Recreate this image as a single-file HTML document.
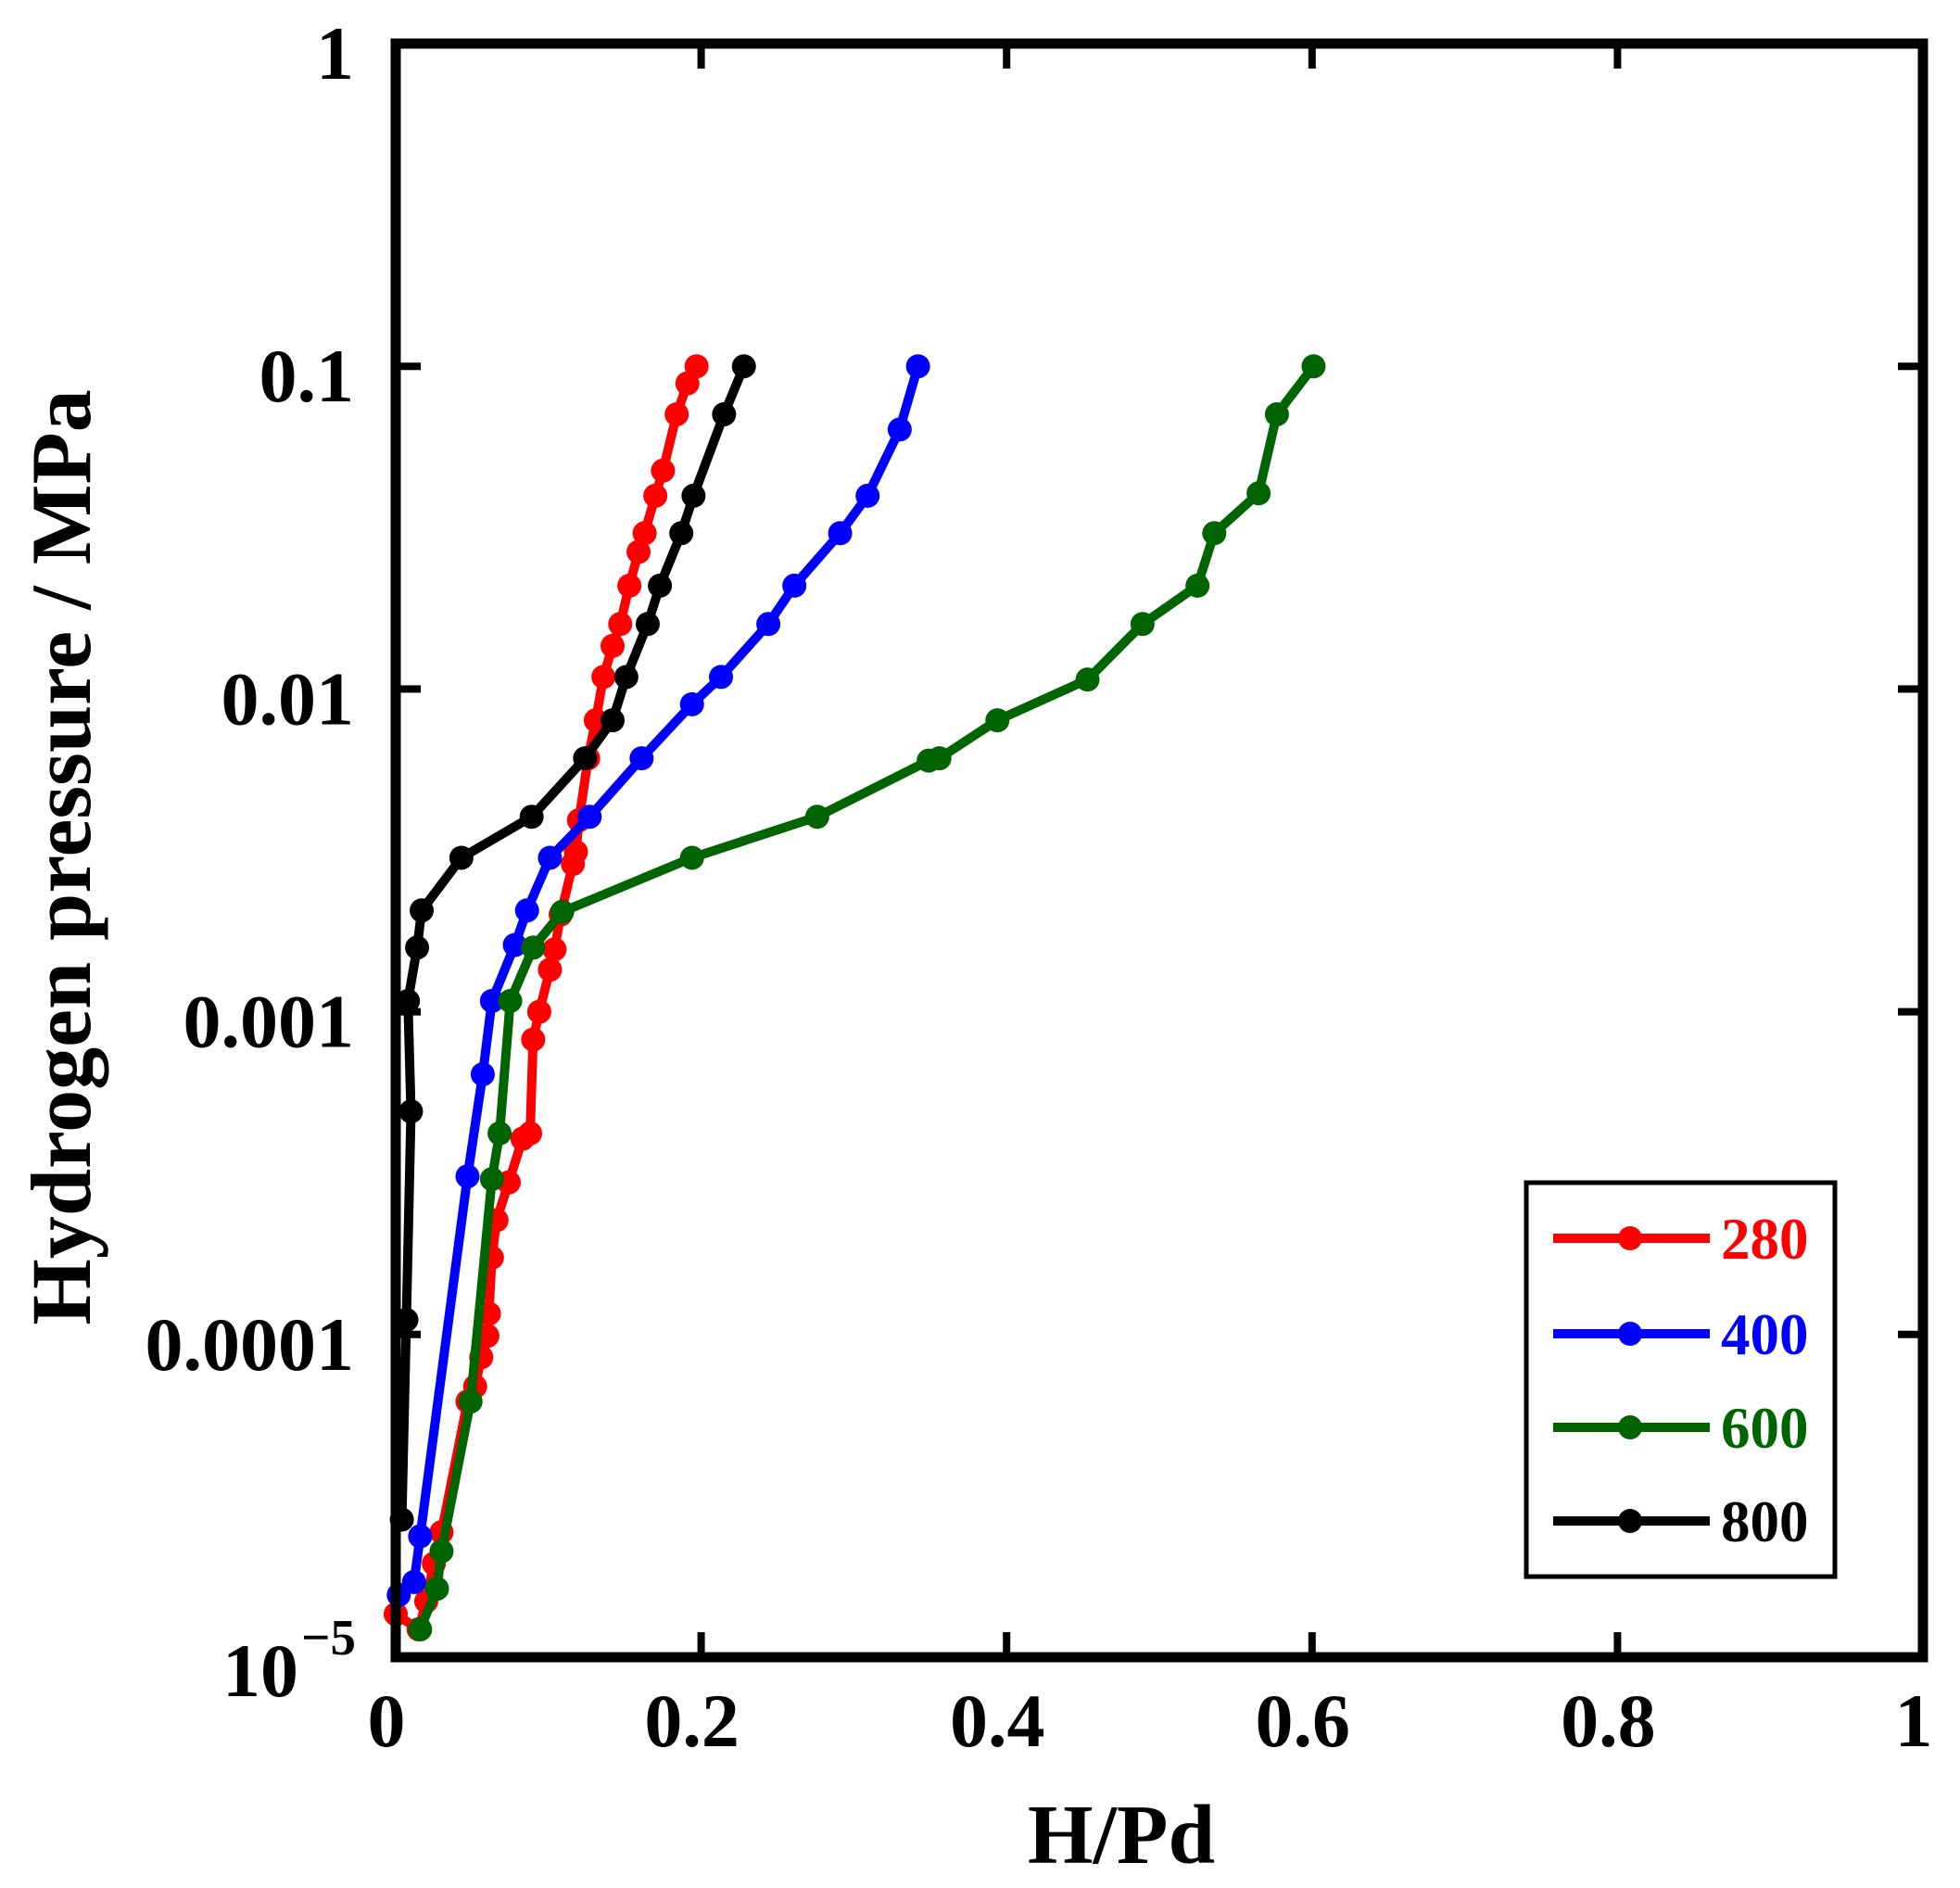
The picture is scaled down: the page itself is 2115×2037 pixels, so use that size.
<!DOCTYPE html>
<html><head><meta charset="utf-8"><style>
html,body{margin:0;padding:0;background:#fff;}
svg{display:block;font-family:"Liberation Serif",serif;font-weight:bold;}
</style></head><body>
<svg id="chart" width="2115" height="2037" viewBox="0 0 2115 2037" xmlns="http://www.w3.org/2000/svg">
<g id="marks"></g>
<g id="axes"></g>
</svg>
<script>
const xTicks=[0,0.2,0.4,0.6,0.8,1];
const xTickLabels=["0","0.2","0.4","0.6","0.8","1"];
const yTicks=[1e-5,1e-4,1e-3,1e-2,0.1,1];
const yTickLabels=["10","0.0001","0.001","0.01","0.1","1"];
const seriesNames=["280","400","600","800"];
const seriesColors=["#ff0000","#0000ff","#006400","#000000"];
const h280=[0.0,0.015,0.020,0.025,0.030,0.047,0.052,0.056,0.060,0.061,0.063,0.066,0.074,0.083,0.088,0.090,0.094,0.101,0.104,0.108,0.116,0.118,0.120,0.126,0.131,0.136,0.142,0.147,0.153,0.159,0.163,0.170,0.175,0.184,0.191,0.197];
const p280=[1.36e-5,1.22e-5,1.49e-5,1.95e-5,2.44e-5,6.2e-5,6.9e-5,8.5e-5,9.9e-5,1.16e-4,1.73e-4,2.26e-4,2.96e-4,4.04e-4,4.2e-4,8.2e-4,1.0e-3,1.35e-3,1.56e-3,2.0e-3,2.87e-3,3.13e-3,3.92e-3,6.1e-3,8.0e-3,1.09e-2,1.36e-2,1.59e-2,2.09e-2,2.66e-2,3.04e-2,3.97e-2,4.75e-2,7.1e-2,8.85e-2,0.1];
const h400=[0.002,0.012,0.016,0.047,0.057,0.063,0.078,0.086,0.101,0.127,0.161,0.194,0.213,0.244,0.261,0.291,0.309,0.330,0.342];
const p400=[1.56e-5,1.71e-5,2.37e-5,3.09e-4,6.4e-4,1.08e-3,1.61e-3,2.06e-3,3.0e-3,4.02e-3,6.1e-3,8.97e-3,1.09e-2,1.59e-2,2.09e-2,3.04e-2,3.97e-2,6.37e-2,0.1];
const h600=[0.016,0.027,0.030,0.049,0.063,0.068,0.075,0.090,0.109,0.194,0.276,0.349,0.356,0.394,0.453,0.489,0.525,0.536,0.565,0.577,0.601];
const p600=[1.22e-5,1.63e-5,2.13e-5,6.2e-5,3.03e-4,4.2e-4,1.08e-3,1.58e-3,2.04e-3,3.0e-3,4.02e-3,6.0e-3,6.1e-3,8.0e-3,1.07e-2,1.59e-2,2.09e-2,3.04e-2,4.04e-2,7.1e-2,0.1];
const h800=[0.004,0.007,0.010,0.008,0.014,0.017,0.043,0.089,0.124,0.142,0.151,0.165,0.173,0.187,0.195,0.215,0.228];
const p800=[2.67e-5,1.11e-4,4.91e-4,1.08e-3,1.58e-3,2.06e-3,3.0e-3,4.02e-3,6.1e-3,8.0e-3,1.09e-2,1.59e-2,2.09e-2,3.04e-2,3.97e-2,7.1e-2,0.1];

const L=427,R=2075,T=47,B=1788;
const xs=v=>L+(R-L)*v;
const ys=v=>B-(B-T)*(Math.log10(v)+5)/5;
const NS="http://www.w3.org/2000/svg";
function mk(tag,attrs,parent){const e=document.createElementNS(NS,tag);for(const k in attrs)e.setAttribute(k,attrs[k]);parent.appendChild(e);return e;}
const marks=document.getElementById('marks'),axes=document.getElementById('axes');
const H=[h280,h400,h600,h800],P=[p280,p400,p600,p800];
for(let s=0;s<4;s++){
  const g=mk('g',{},marks);
  
  
  const pts=H[s].map((h,i)=>xs(h).toFixed(1)+','+ys(P[s][i]).toFixed(1)).join(' ');
  const pl=mk('polyline',{points:pts,fill:'none',stroke:seriesColors[s],'stroke-width':10,'stroke-linejoin':'round'},g);
  
  
  H[s].forEach((h,i)=>{
    const c=mk('circle',{cx:xs(h),cy:ys(P[s][i]),r:13,fill:seriesColors[s]},g);
    
    
  });
}
const fr=mk('rect',{x:L,y:T,width:R-L,height:B-T,fill:'none',stroke:'#000','stroke-width':11},axes);


xTicks.forEach((v,i)=>{
  const x=xs(v);
  mk('line',{x1:x,y1:B,x2:x,y2:B-27,stroke:'#000','stroke-width':8},axes);
  mk('line',{x1:x,y1:T,x2:x,y2:T+27,stroke:'#000','stroke-width':8},axes);
  const t=mk('text',{x:x-10,y:1884,'text-anchor':'middle','font-size':82},axes);
  t.textContent=xTickLabels[i];
  
  
});
yTicks.forEach((v,i)=>{
  const y=ys(v);
  mk('line',{x1:L,y1:y,x2:L+27,y2:y,stroke:'#000','stroke-width':8},axes);
  mk('line',{x1:R,y1:y,x2:R-27,y2:y,stroke:'#000','stroke-width':8},axes);
  const t=mk('text',{x:i==0?322:382,y:i==0?1830:y+38,'text-anchor':'end','font-size':82},axes);
  t.textContent=yTickLabels[i];
  
  
  if(i==0){const sup=mk('text',{x:384,y:1785,'text-anchor':'end','font-size':55},axes);sup.textContent='−5';
    
    }
});
const lg=mk('g',{},axes);


mk('rect',{x:1647,y:1276,width:333,height:425,fill:'#fff',stroke:'#000','stroke-width':5},lg);
const legY=[1336,1439,1540,1641];
for(let s=0;s<4;s++){
  const e=mk('g',{},lg);
  
  
  mk('line',{x1:1676,y1:legY[s],x2:1845,y2:legY[s],stroke:seriesColors[s],'stroke-width':10},e);
  mk('circle',{cx:1759,cy:legY[s],r:13,fill:seriesColors[s]},e);
  const t=mk('text',{x:1857,y:legY[s]+22,'font-size':63,fill:seriesColors[s]},e);
  t.textContent=seriesNames[s];
}
const xt=mk('text',{x:1210,y:2010,'text-anchor':'middle','font-size':91},axes);
xt.textContent='H/Pd';


const yt=mk('text',{x:0,y:0,'text-anchor':'middle','font-size':92,transform:'translate(97,925) rotate(-90)'},axes);
yt.textContent='Hydrogen pressure / MPa';


</script>
</body></html>
